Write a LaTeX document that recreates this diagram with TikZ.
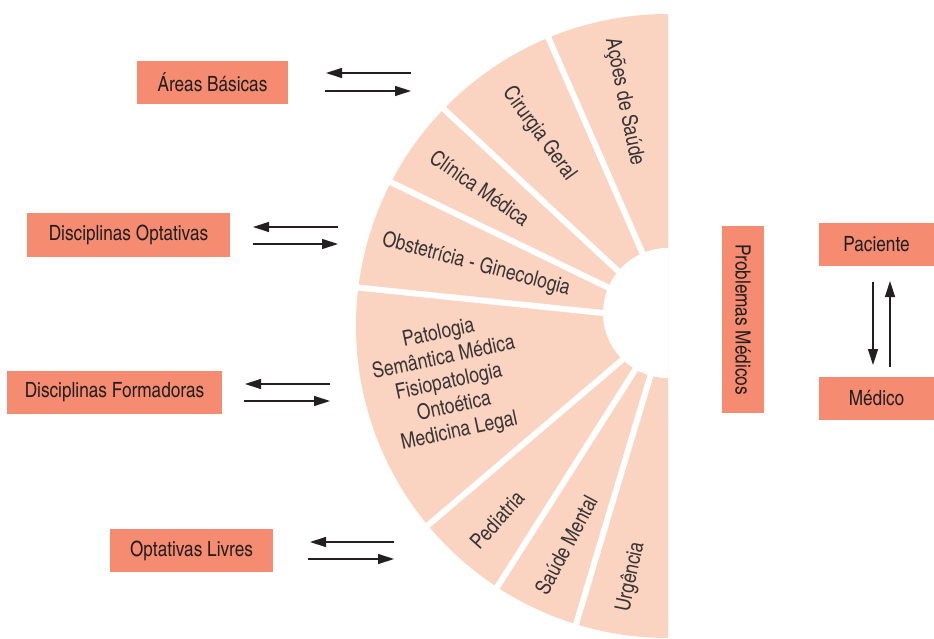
\documentclass[tikz,border=0pt]{standalone}
\usepackage{fontspec}
\setmainfont{texgyreheroscn-regular.otf}
\usetikzlibrary{arrows.meta,calc}
\definecolor{fanc}{RGB}{251,212,193}
\definecolor{boxc}{RGB}{245,140,113}
\definecolor{txt}{RGB}{35,31,32}
\begin{document}
\begin{tikzpicture}[x=1pt,y=-1pt,
  lbl/.style={font=\fontsize{21}{25}\selectfont, text=txt},
  flbl/.style={font=\fontsize{21.5}{25}\selectfont, text=txt!90},
  box/.style={fill=boxc, draw=none, minimum height=43pt, inner sep=0pt, lbl},
  arr/.style={-{Triangle[length=16pt,width=10pt]}, line width=1.3pt, draw=txt},
  gapline/.style={draw=white, line width=6pt}]
\useasboundingbox (0,0) rectangle (934,639);
\coordinate (oc) at (668,326);
\coordinate (hc) at (668,313);
% gap lines: inner and outer points
\coordinate (g1i) at (642,252); \coordinate (g1o) at (538,14);
\coordinate (g2i) at (617,270); \coordinate (g2o) at (433,99);
\coordinate (g3i) at (607,287); \coordinate (g3o) at (378,176);
\coordinate (g4i) at (603,313); \coordinate (g4o) at (343,286);
\coordinate (g5i) at (622,360); \coordinate (g5o) at (413,538);
\coordinate (g6i) at (635,370); \coordinate (g6o) at (489,600);
\coordinate (g7i) at (650,377); \coordinate (g7o) at (571,641);
\begin{scope}
  \clip (0,0) rectangle (668,639);
  \fill[fanc] (oc) circle[radius=312pt];
  \foreach \g in {1,...,7}
    \draw[gapline] ($(g\g o)!1.15!(g\g i)$) -- (g\g o);
  \fill[white] (hc) circle[radius=65pt];
\end{scope}
% fan labels
\node[flbl, rotate=-78.5] (acoes) at (624,102) {Ações de Saúde};
\node[flbl, rotate=-54] (cir) at (539,134) {Cirurgia Geral};
\node[flbl, rotate=-35] (cli) at (480,188) {Clínica Médica};
\node[flbl, rotate=-15] (obs) at (476,265) {Obstetrícia - Ginecologia};
\node[flbl, rotate=12, align=center] (pat) at (449,383) {Patologia\\Semântica Médica\\Fisiopatologia\\Ontoética\\Medicina Legal};
\node[flbl, rotate=48] (ped) at (497,520) {Pediatria};
\node[flbl, rotate=62] (sau) at (566,545) {Saúde Mental};
\node[flbl, rotate=78] (urg) at (631,577) {Urgência};
% boxes
\node[box, minimum width=151pt] (ab) at (212.5,82.5) {Áreas Básicas};
\node[box, minimum width=203pt] (do) at (128.5,235) {Disciplinas Optativas};
\node[box, minimum width=215pt] (df) at (114.5,392.5) {Disciplinas Formadoras};
\node[box, minimum width=163pt] (ol) at (191.5,550.5) {Optativas Livres};
\node[box, minimum width=187pt, minimum height=42pt, rotate=-90] (pm) at (743,319.5) {Problemas Médicos};
\node[box, minimum width=115pt] (pac) at (876.5,244.5) {Paciente};
\node[box, minimum width=115pt] (med) at (876.5,398.5) {Médico};
% arrow ends
\coordinate (a1r) at (411,73); \coordinate (a1l) at (326,73);
\coordinate (a2l) at (325,91); \coordinate (a2r) at (411,91);
\coordinate (b1r) at (338,227); \coordinate (b1l) at (253,227);
\coordinate (b2l) at (253,244); \coordinate (b2r) at (338,244);
\coordinate (c1r) at (330,384); \coordinate (c1l) at (245,384);
\coordinate (c2l) at (244,401); \coordinate (c2r) at (330,401);
\coordinate (d1r) at (394,542); \coordinate (d1l) at (310,542);
\coordinate (d2l) at (308,559); \coordinate (d2r) at (394,559);
\coordinate (p1t) at (873,282); \coordinate (p1b) at (873,365);
\coordinate (p2b) at (890,367); \coordinate (p2t) at (890,281);
\draw[arr] (a1r) -- (a1l);
\draw[arr] (a2l) -- (a2r);
\draw[arr] (b1r) -- (b1l);
\draw[arr] (b2l) -- (b2r);
\draw[arr] (c1r) -- (c1l);
\draw[arr] (c2l) -- (c2r);
\draw[arr] (d1r) -- (d1l);
\draw[arr] (d2l) -- (d2r);
\draw[arr] (p1t) -- (p1b);
\draw[arr] (p2b) -- (p2t);
\end{tikzpicture}
\end{document}
